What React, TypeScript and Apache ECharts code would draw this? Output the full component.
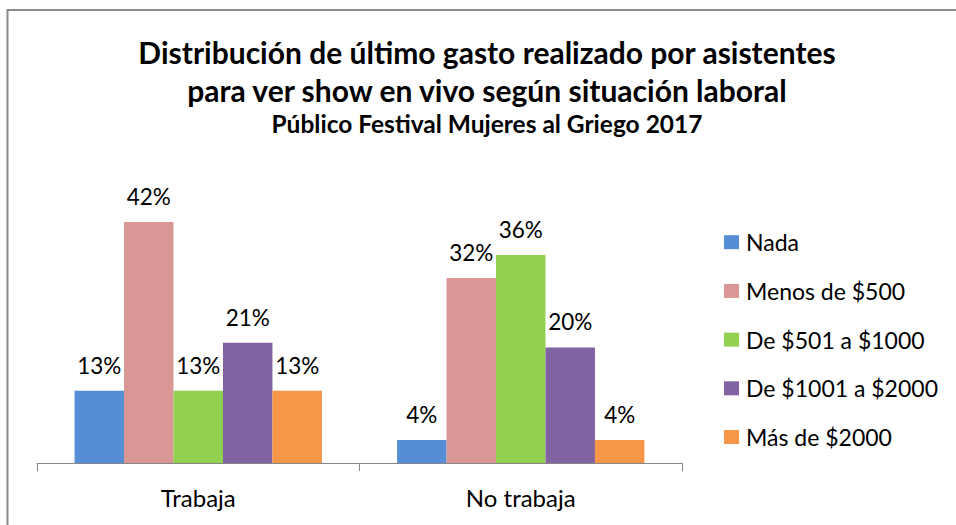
import React, { useEffect, useRef } from "react";
import * as echarts from "echarts";

const categories = ["Trabaja", "No trabaja"];
const seriesNames = ["Nada", "Menos de $500", "De $501 a $1000", "De $1001 a $2000", "Más de $2000"];
const nada = [12.5, 4];
const menos500 = [41.7, 32];
const de501a1000 = [12.5, 36];
const de1001a2000 = [20.8, 20];
const mas2000 = [12.5, 4];
const colors = ["#558ED5", "#D99694", "#92D050", "#8064A2", "#F79646"];
const titleLines = [
  "Distribución de último gasto realizado por asistentes",
  "para ver show en vivo según situación laboral",
];
const subtitle = "Público Festival Mujeres al Griego 2017";

const FONT = "Lato, 'Open Sans', sans-serif";

export default function App() {
  const ref = useRef<HTMLDivElement>(null);
  useEffect(() => {
    if (!ref.current) return;
    const chart = echarts.init(ref.current, undefined, { renderer: "svg" });
    const values = [nada, menos500, de501a1000, de1001a2000, mas2000];
    chart.setOption({
      animation: false,
      textStyle: { fontFamily: FONT },
      graphic: [
        {
          type: "rect",
          shape: { x: 7.5, y: 10, width: 1100, height: 700 },
          style: { fill: "none", stroke: "#898989", lineWidth: 2 },
          silent: true,
        },
        {
          type: "text",
          x: 487,
          y: 52,
          style: {
            text: titleLines[0],
            font: `bold 30px ${FONT}`,
            fill: "#000",
            align: "center",
            verticalAlign: "middle",
          },
        },
        {
          type: "text",
          x: 487,
          y: 90,
          style: {
            text: titleLines[1],
            font: `bold 30px ${FONT}`,
            fill: "#000",
            align: "center",
            verticalAlign: "middle",
          },
        },
        {
          type: "text",
          x: 487,
          y: 123.5,
          style: {
            text: subtitle,
            font: `bold 24.5px ${FONT}`,
            fill: "#000",
            align: "center",
            verticalAlign: "middle",
          },
        },
      ],
      legend: {
        orient: "vertical",
        left: 724,
        top: 230.7,
        padding: 0,
        icon: "rect",
        itemWidth: 15,
        itemHeight: 14,
        itemGap: 25.7,
        textStyle: { fontSize: 23, lineHeight: 22, color: "#000", fontFamily: FONT, padding: [0, 0, 0, 2] },
        data: seriesNames,
      },
      grid: { left: 37, right: 274, top: 174, bottom: 62 },
      xAxis: {
        type: "category",
        data: categories,
        axisLine: { lineStyle: { color: "#868686", width: 1 } },
        axisTick: { show: true, length: 8, lineStyle: { color: "#868686" } },
        axisLabel: { fontSize: 24, color: "#000", margin: 22, fontFamily: FONT },
      },
      yAxis: {
        type: "value",
        min: 0,
        max: 50,
        show: false,
        splitLine: { show: false },
      },
      series: seriesNames.map((name, i) => ({
        name,
        type: "bar",
        data: values[i],
        barGap: 0,
        barCategoryGap: "23.3%",
        itemStyle: { color: colors[i] },
        label: {
          show: true,
          position: "top",
          distance: 14,
          fontSize: 22.5,
          color: "#000",
          fontFamily: FONT,
          formatter: (p: any) => Math.round(p.value) + "%",
        },
      })),
    });
    return () => chart.dispose();
  }, []);
  return (
    <div
      ref={ref}
      style={{ position: "absolute", left: 0, top: 0, width: 956, height: 525, background: "#fff" }}
    />
  );
}
